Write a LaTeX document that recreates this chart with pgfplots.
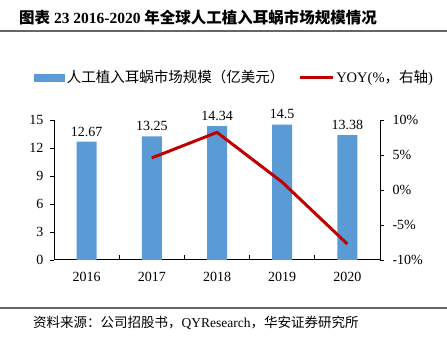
\documentclass[border=0pt]{standalone}
\usepackage{pgfplots}
\pgfplotsset{compat=1.18}
\usepackage{fontspec}
\setmainfont{Liberation Serif}
\newfontfamily\cjk{Noto Sans CJK SC}
\definecolor{barblue}{HTML}{5B9BD5}
\definecolor{linered}{HTML}{C00000}
\begin{document}
\begin{tikzpicture}[x=1pt,y=1pt]
\useasboundingbox (0pt,0pt) rectangle (447pt,337pt);
\node[anchor=west,inner sep=0pt,font=\bfseries\fontsize{15.5}{17}\selectfont] at (19pt,319pt) {{\cjk\bfseries 图表} 23 2016-2020 {\cjk\bfseries 年全球人工植入耳蜗市场规模情况}};
\draw[black!60, line width=1.2pt] (0pt,306pt) -- (447pt,306pt);
\draw[black!60, line width=1.2pt] (0pt,29pt) -- (447pt,29pt);
\node[anchor=west,inner sep=0pt,font=\fontsize{13.5}{15}\selectfont] at (33pt,14pt) {{\cjk 资料来源：公司招股书，}QYResearch{\cjk ，华安证券研究所}};

% x axis with inward ticks
\begin{axis}[at={(54pt,77pt)}, anchor=south west, width=326pt, height=140pt, scale only axis,
  xmin=-0.5, xmax=4.5, ymin=0, ymax=15,
  axis x line*=bottom, axis y line=none,
  tick align=inside,
  xtick={0,1,2,3,4}, xticklabels={2016,2017,2018,2019,2020},
  major x tick style={draw=none},
  minor xtick={0.5,1.5,2.5,3.5}, minor tick length=5pt,
  every minor tick/.style={black, line width=0.8pt},
  x axis line style={line width=1pt},
  tick label style={font=\fontsize{14}{16}\selectfont},
  xticklabel style={yshift=-9pt},
  clip=false]
\end{axis}

% bars with left y axis
\begin{axis}[at={(54pt,77pt)}, anchor=south west, width=326pt, height=140pt, scale only axis,
  xmin=-0.5, xmax=4.5, ymin=0, ymax=15,
  axis y line*=left, axis x line=none,
  tick align=outside, major tick length=4pt,
  ytick={0,3,6,9,12,15}, yticklabels={0,3,6,9,12,15},
  y axis line style={line width=1pt},
  every major tick/.style={black, line width=0.8pt},
  tick label style={font=\fontsize{14}{16}\selectfont},
  yticklabel style={xshift=-3pt},
  clip=false]
\addplot[ybar, bar width=20pt, fill=barblue, draw=none,
  point meta=explicit symbolic,
  nodes near coords, every node near coord/.style={font=\fontsize{14}{16}\selectfont, black, yshift=2pt}]
  coordinates {(0,12.67) [12.67] (1,13.25) [13.25] (2,14.34) [14.34] (3,14.5) [14.5] (4,13.38) [13.38]};
\end{axis}

% line with right y axis
\begin{axis}[at={(54pt,77pt)}, anchor=south west, width=326pt, height=140pt, scale only axis,
  xmin=-0.5, xmax=4.5, ymin=-10, ymax=10,
  axis y line*=right, axis x line=none,
  tick align=outside, major tick length=4pt,
  ytick={-10,-5,0,5,10}, yticklabels={-10\%,-5\%,0\%,5\%,10\%},
  y axis line style={line width=1pt},
  every major tick/.style={black, line width=0.8pt},
  tick label style={font=\fontsize{14}{16}\selectfont},
  yticklabel style={xshift=5pt},
  clip=false,
  legend columns=2,
  legend style={at={(-0.07,1.304)}, anchor=west, draw=none, fill=none,
    font=\fontsize{14.5}{16}\selectfont,
    /tikz/every even column/.append style={column sep=12pt}}]
\addlegendimage{legend image code/.code={\fill[barblue] (0pt,-3.5pt) rectangle (30pt,3.5pt);}}
\addlegendentry{{\cjk 人工植入耳蜗市场规模（亿美元）}}
\addplot[linered, line width=3pt, mark=none,
  legend image code/.code={\draw[linered, line width=3pt] (0pt,0pt) -- (33pt,0pt);}]
  coordinates {(1,4.58) (2,8.23) (3,1.12) (4,-7.72)};
\addlegendentry{YOY(\%{\cjk ，右轴})}
\end{axis}
\end{tikzpicture}
\end{document}
